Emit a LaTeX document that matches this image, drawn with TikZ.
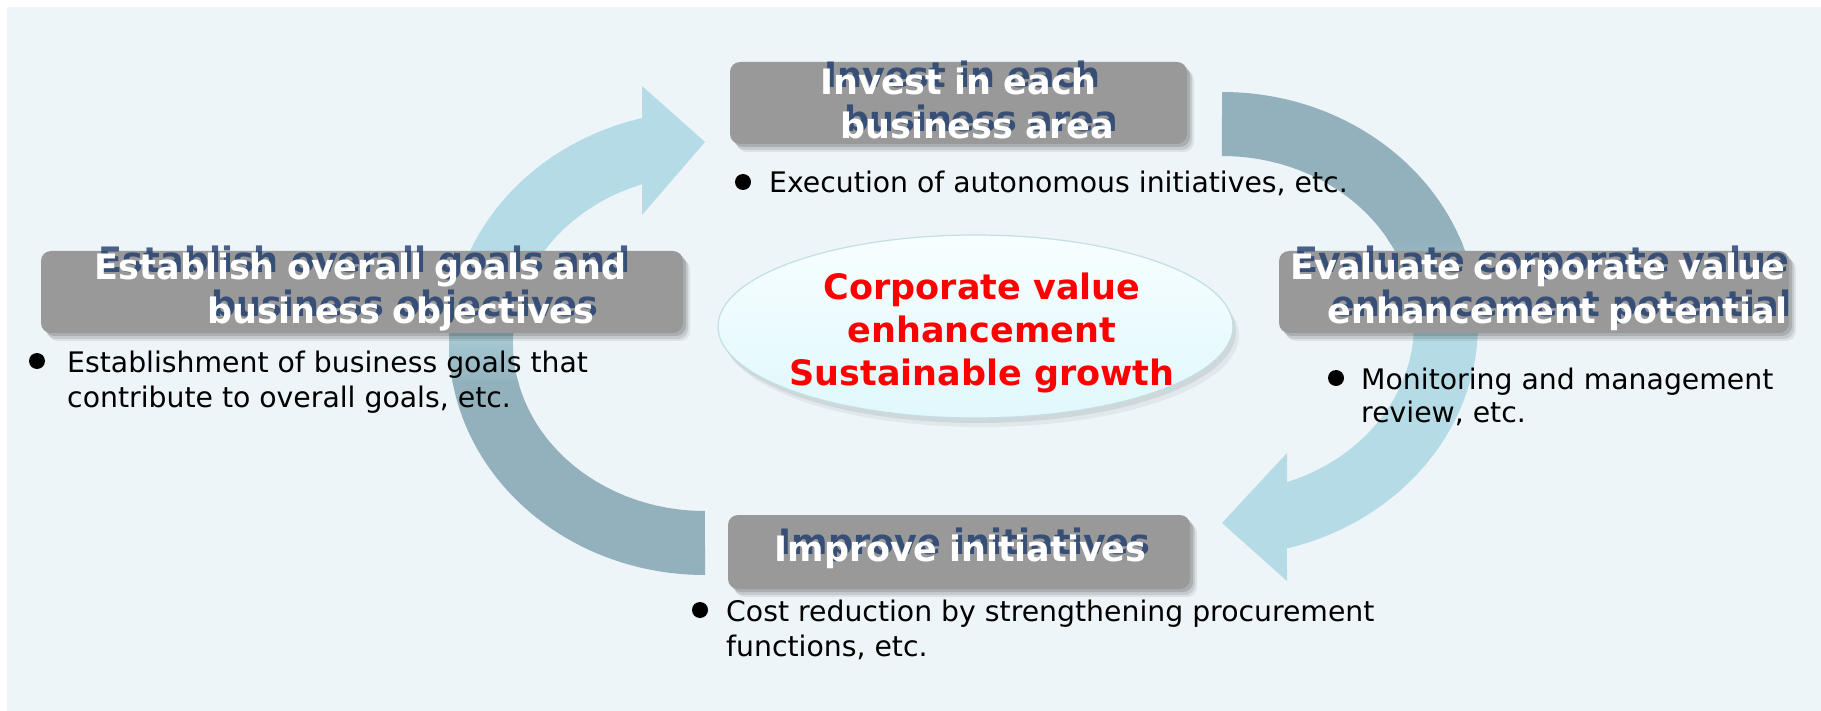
\documentclass[tikz,border=0pt]{standalone}
\usepackage{fontspec}
\setmainfont{DejaVu Sans}
\usetikzlibrary{shapes.geometric}

\definecolor{backfill}{HTML}{EDF5F8}
\definecolor{arcdark}{HTML}{92B1BC}
\definecolor{arclight}{HTML}{B5DCE6}
\definecolor{boxgray}{HTML}{999999}
\definecolor{ghostblue}{HTML}{1F3C6E}
\definecolor{coretop}{HTML}{F7FEFF}
\definecolor{corebottom}{HTML}{E0F8FC}
\definecolor{coreline}{HTML}{C2DFE5}

\begin{document}
\begin{tikzpicture}[x=1pt, y=-1pt,
    stagebox/.style={rectangle, rounded corners=10pt, fill=boxgray, inner sep=0pt,
      preaction={fill=black, opacity=.07, transform canvas={shift={(7pt,-8pt)}}},
      preaction={fill=black, opacity=.10, transform canvas={shift={(5pt,-6pt)}}},
      preaction={fill=black, opacity=.14, transform canvas={shift={(3pt,-3pt)}}}},
    stagetitle/.style={text=white, inner sep=0pt, align=center,
      font=\fontsize{35}{44}\selectfont\bfseries},
    stageghost/.style={stagetitle, text=ghostblue, text opacity=.8},
    core/.style={ellipse, inner sep=0pt, draw=coreline, line width=1.2pt,
      top color=coretop, bottom color=corebottom,
      preaction={fill=black, opacity=.05, transform canvas={shift={(6pt,-9pt)}}},
      preaction={fill=black, opacity=.07, transform canvas={shift={(3pt,-5pt)}}}},
    corelabel/.style={text=red, inner sep=0pt, align=center,
      font=\fontsize{35}{43}\selectfont\bfseries},
    note/.style={anchor=base west, inner sep=0pt, font=\fontsize{28.3}{35}\selectfont},
    dot/.style={circle, fill=black, inner sep=0pt, minimum size=16pt}]

    \useasboundingbox (0,0) rectangle (1821,711);
    \fill[backfill] (7,7) rectangle (1821,711);

    % left loop, bottom box up to top box
    \begin{scope}
      \clip (705,575) arc[start angle=90, end angle=255.76, x radius=256, y radius=232]
        -- (642,86) -- (705,142) -- (642,215) -- (642,184.3)
        arc[start angle=250.85, end angle=90, x radius=192, y radius=168] -- cycle;
      \fill[arclight] (430,70) rectangle (720,305);
      \shade[top color=arclight, bottom color=arcdark] (430,300) rectangle (720,385);
      \fill[arcdark] (430,380) rectangle (720,590);
    \end{scope}

    % right loop, top box down to bottom box
    \begin{scope}
      \clip (1222,92) arc[start angle=-90, end angle=75.3, x radius=256, y radius=232]
        -- (1287,581) -- (1222,523) -- (1287,453) -- (1287,482.1)
        arc[start angle=70.2, end angle=-90, x radius=192, y radius=168] -- cycle;
      \fill[arcdark] (1210,80) rectangle (1490,245);
      \shade[top color=arcdark, bottom color=arclight] (1210,240) rectangle (1490,335);
      \fill[arclight] (1210,330) rectangle (1490,600);
    \end{scope}

    % centre ellipse
    \node[core, minimum width=515pt, minimum height=183pt] (core) at (975.5,326.5) {};
    \node[corelabel] (coretext) at (982,333) {Corporate value\\enhancement\\Sustainable growth};

    % the four stages
    \node[stagebox, minimum width=457pt, minimum height=82pt] (invest) at (958.5,103) {};
    \node[stageghost] at ([shift={(4,-7)}]invest.center) {Invest in each\\\hspace*{37pt}business area};
    \node[stagetitle] (investtitle) at (invest.center) {Invest in each\\\hspace*{37pt}business area};

    \node[stagebox, minimum width=642pt, minimum height=82pt] (establish) at (362,292) {};
    \node[stageghost] at ([shift={(2.5,-7)}]establish.center) {Establish overall goals and\\\hspace*{81pt}business objectives};
    \node[stagetitle] (establishtitle) at ([xshift=-1.5]establish.center) {Establish overall goals and\\\hspace*{81pt}business objectives};

    \node[stagebox, minimum width=510pt, minimum height=82pt] (evaluate) at (1534,292) {};
    \node[stageghost] at ([shift={(8,-7)}]evaluate.center) {Evaluate corporate value\\\hspace*{39pt}enhancement potential};
    \node[stagetitle] (evaluatetitle) at ([xshift=4]evaluate.center) {Evaluate corporate value\\\hspace*{39pt}enhancement potential};

    \node[stagebox, minimum width=462pt, minimum height=74pt] (improve) at (959,552) {};
    \node[stageghost] at ([shift={(5.5,-7)}]improve.center) {Improve initiatives};
    \node[stagetitle] (improvetitle) at ([xshift=1.5]improve.center) {Improve initiatives};

    % notes under each stage
    \node[dot] (investdot) at (743,182) {};
    \node[note] (investnote) at (769,193) {Execution of autonomous initiatives, etc.};

    \node[dot] (establishdot) at (37,361) {};
    \node[note] (establishnote) at (67,372) {Establishment of business goals that};
    \node[note] (establishmore) at (67,407) {contribute to overall goals, etc.};

    \node[dot] (evaluatedot) at (1336,378) {};
    \node[note] (evaluatenote) at (1361,389) {Monitoring and management};
    \node[note] (evaluatemore) at (1361,422) {review, etc.};

    \node[dot] (improvedot) at (700,610) {};
    \node[note] (improvenote) at (726,621) {Cost reduction by strengthening procurement};
    \node[note] (improvemore) at (726,656) {functions, etc.};
\end{tikzpicture}
\end{document}
